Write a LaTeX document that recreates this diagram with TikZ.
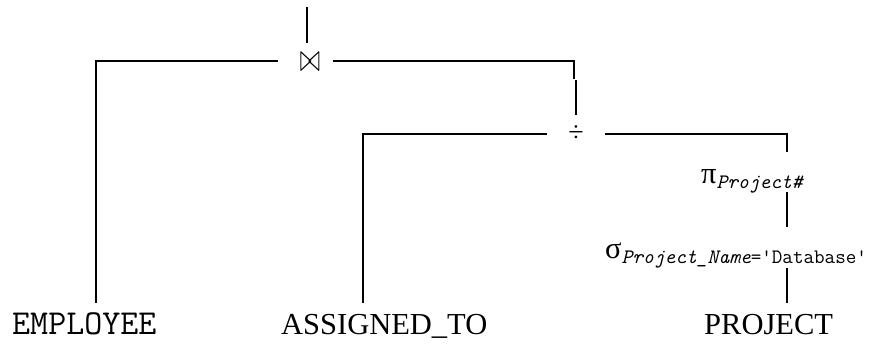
\documentclass[tikz,border=0pt]{standalone}
\usepackage{fontspec}
\setmainfont{Liberation Serif}
\begin{document}
\begin{tikzpicture}[x=1pt,y=-1pt,
  rm/.style={font=\fontsize{30.5}{32}\selectfont,inner sep=0pt,anchor=base west},
  tt/.style={font=\fontsize{35}{36}\selectfont\ttfamily,inner sep=0pt,anchor=base west},
  opnode/.style={inner sep=0pt},
  wire/.style={line width=2pt}]
\useasboundingbox (0,0) rectangle (876,346);
% leaves
\node[tt] (employee) at (12,334) {EMPLOYEE};
\node[rm] (assigned) at (281,334) {ASSIGNED\_TO};
\node[rm] (project) at (704,334) {PROJECT};
% operators
\node[opnode,font=\fontsize{25}{25}\selectfont] (join) at (310,62) {\scalebox{1}[1.6]{$\bowtie$}};
\node[opnode,font=\fontsize{28}{28}\selectfont] (div) at (576,134) {÷};
\node[rm] (proj) at (701,183) {π\raisebox{-5pt}{\fontsize{20.5}{20}\selectfont\ttfamily\itshape Project\#}};
\node[rm] (sel) at (605,258) {σ\raisebox{-5pt}{\fontsize{20.5}{20}\selectfont\ttfamily{\itshape Project\_Name}=\textquotesingle Database\textquotesingle}};
% wire end points
\coordinate (root) at (307,7);
\coordinate (joinTop) at (307,43);
\coordinate (joinL) at (278,61);
\coordinate (joinR) at (333,61);
\coordinate (empTop) at (96,303);
\coordinate (jogA) at (574,79);
\coordinate (jogB) at (576,80);
\coordinate (divTop) at (576,115);
\coordinate (divL) at (547,134);
\coordinate (divR) at (605,134);
\coordinate (asgTop) at (363,303);
\coordinate (projTop) at (787,152);
\coordinate (projBot) at (787,192);
\coordinate (selTop) at (787,227);
\coordinate (selBot) at (787,268);
\coordinate (prjTop) at (787,303);
% wires
\draw[wire] (root) -- (joinTop);
\draw[wire] (joinL) -| (empTop);
\draw[wire] (joinR) -| (jogA);
\draw[wire] (jogB) -- (divTop);
\draw[wire] (divL) -| (asgTop);
\draw[wire] (divR) -| (projTop);
\draw[wire] (projBot) -- (selTop);
\draw[wire] (selBot) -- (prjTop);
\end{tikzpicture}
\end{document}
